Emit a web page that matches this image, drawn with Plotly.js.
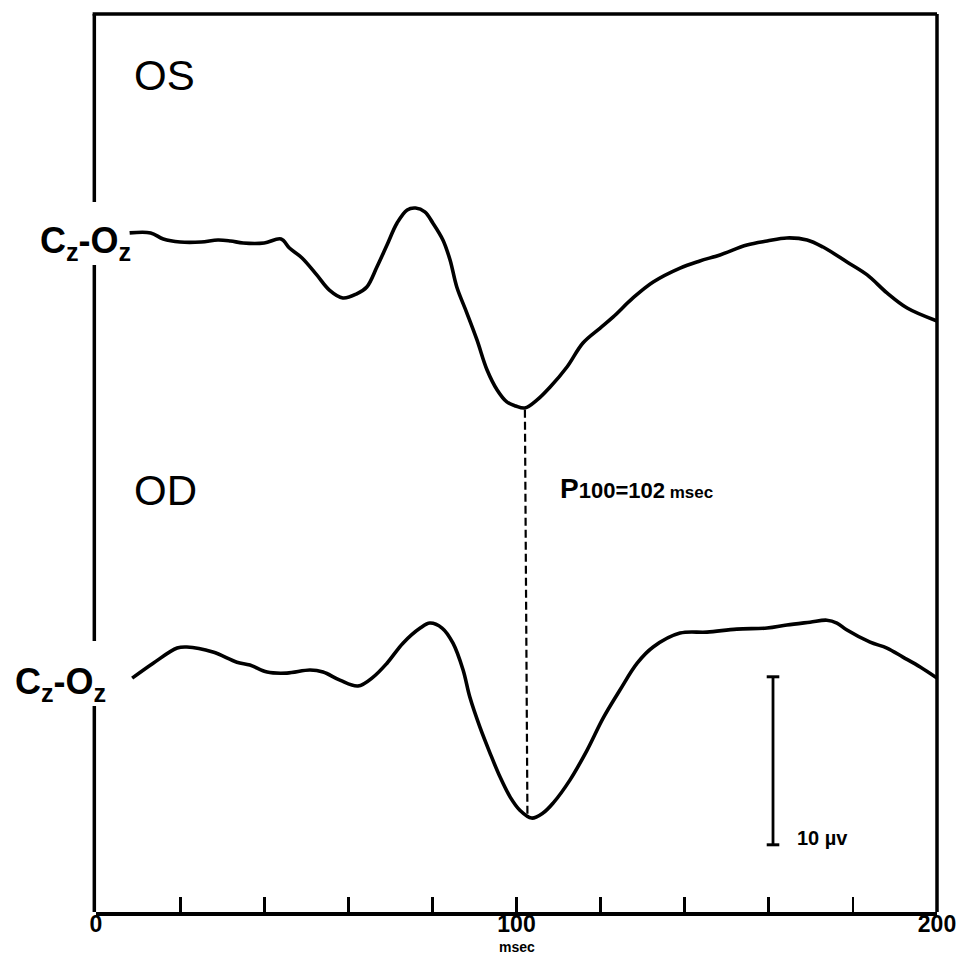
<!DOCTYPE html>
<html>
<head>
<meta charset="utf-8">
<script src="https://cdn.plot.ly/plotly-3.0.1.min.js"></script>
<style>html,body{margin:0;padding:0;background:#fff;}#chart{width:960px;height:954px;}</style>
</head>
<body>
<div id="chart"></div>
<script>
// ---- Data (time in msec, amplitude in µV) ----
const TIME_OS = [8, 13, 16, 20, 25, 29, 32, 35, 40, 44, 46, 49, 52.5, 55.5, 58.7, 62, 64.4, 66.8, 69.2, 71.6, 74, 76, 78.2, 80.1, 82.5, 84.2, 85.8, 88.2, 90.6, 93, 95.4, 97.7, 99.8, 102, 104.9, 108, 112, 115.8, 119.9, 123, 127.7, 132.5, 138.9, 143.6, 148.4, 154.8, 159.6, 164.3, 169.1, 172.9, 178.6, 183.4, 188.1, 192.9, 200];
const AMP_OS  = [0.42, 0.42, 0.06, -0.12, -0.12, 0, -0.06, -0.18, -0.18, 0.06, -0.48, -1.07, -2.08, -2.98, -3.45, -3.21, -2.8, -1.61, -0.3, 1.01, 1.79, 1.9, 1.67, 1.01, 0, -1.19, -2.8, -4.35, -5.95, -7.74, -8.93, -9.64, -9.88, -10.0, -9.52, -8.75, -7.56, -6.13, -5.24, -4.58, -3.45, -2.5, -1.67, -1.25, -0.89, -0.3, -0.06, 0.12, 0, -0.42, -1.31, -2.08, -3.15, -4.05, -4.82];

const TIME_OD = [8.6, 13.6, 19.3, 21.6, 27.8, 33.5, 36.6, 40.7, 45.4, 50.9, 54, 58, 62.3, 65.9, 69.2, 73, 77.1, 79.4, 82.3, 84.9, 87.3, 88.9, 91.3, 93.7, 96.1, 98.5, 100.8, 103.6, 106.3, 108.7, 112.7, 116.8, 120.6, 124.6, 128.7, 132.5, 138.9, 145.3, 152.4, 159.6, 164.3, 169.8, 173.8, 176.2, 178.6, 184.1, 188.1, 191.9, 196, 200];
const AMP_OD  = [-0.18, 0.71, 1.61, 1.67, 1.37, 0.77, 0.6, 0.18, 0.12, 0.3, 0.18, -0.3, -0.65, -0.12, 0.71, 1.9, 2.8, 3.1, 2.8, 1.9, 0.3, -1.31, -3.1, -4.64, -6.07, -7.26, -8.04, -8.51, -8.21, -7.62, -6.25, -4.46, -2.56, -0.89, 0.71, 1.67, 2.5, 2.56, 2.74, 2.8, 2.98, 3.15, 3.27, 3.1, 2.68, 1.96, 1.61, 1.07, 0.48, -0.18];

const X_TICKS = [0, 20, 40, 60, 80, 100, 120, 140, 160, 180, 200];
const X_TICK_LABELS = ['0', '', '', '', '', '100', '', '', '', '', '200'];
const P100_LATENCY = 102;   // msec
const SCALE_UV = 10;        // µV calibration bar

// ---- Layout constants (stacking of the two records) ----
const OS_OFFSET = 0;
const OD_OFFSET = -25.9;
const SCALE_X = 161;
const SCALE_TOP = -26.0;

const osY = AMP_OS.map(v => v + OS_OFFSET);
const odY = AMP_OD.map(v => v + OD_OFFSET);
const osMin = Math.min(...osY);
const odMin = Math.min(...odY);

const lineStyle = {color: '#000', width: 3.6, shape: 'spline', smoothing: 1.0};

const traces = [
  {x: TIME_OS, y: osY, mode: 'lines', line: lineStyle, hoverinfo: 'skip'},
  {x: TIME_OD, y: odY, mode: 'lines', line: lineStyle, hoverinfo: 'skip'},
  {x: [P100_LATENCY, P100_LATENCY + 0.6], y: [osMin - 0.1, odMin + 0.1], mode: 'lines',
   line: {color: '#000', width: 2.2, dash: '8px,4px'}, hoverinfo: 'skip'},
  {x: [SCALE_X, SCALE_X], y: [SCALE_TOP, SCALE_TOP - SCALE_UV], mode: 'lines+markers',
   line: {color: '#000', width: 2.8},
   marker: {symbol: 'line-ew', size: 9, color: '#000', line: {color: '#000', width: 3}},
   hoverinfo: 'skip'}
];

const F = 'Liberation Sans, Arial, sans-serif';
const frame = {color: '#000', width: 3.5};
const shapes = [
  {type: 'line', xref: 'paper', yref: 'paper', x0: -0.004, x1: 1, y0: 1, y1: 1, line: frame},
  {type: 'line', xref: 'paper', yref: 'paper', x0: 1, x1: 1, y0: 0, y1: 1, line: frame},
  {type: 'line', xref: 'paper', yref: 'paper', x0: -0.002, x1: -0.002, y0: 1, y1: 0.7906, line: frame},
  {type: 'line', xref: 'paper', yref: 'paper', x0: -0.002, x1: -0.002, y0: 0.7205, y1: 0.3018, line: frame},
  {type: 'line', xref: 'paper', yref: 'paper', x0: -0.002, x1: -0.002, y0: 0.2294, y1: 0, line: frame}
];

const czoz = 'C<sub>z</sub>-O<sub>z</sub>';
const annotations = [
  {text: 'OS', x: 8.6, y: 9.76, xanchor: 'left', yanchor: 'middle', showarrow: false,
   font: {family: F, size: 42, color: '#000'}},
  {text: 'OD', x: 8.6, y: -14.94, xanchor: 'left', yanchor: 'middle', showarrow: false,
   font: {family: F, size: 42, color: '#000'}},
  {text: czoz, x: 8.7, y: -0.2, xanchor: 'right', yanchor: 'middle', showarrow: false,
   font: {family: F, size: 36, color: '#000', weight: 'bold'}},
  {text: czoz, x: 2.9, y: -26.4, xanchor: 'right', yanchor: 'middle', showarrow: false,
   font: {family: F, size: 36, color: '#000', weight: 'bold'}},
  {text: '<span style="font-size:28px">P</span>100=102<span style="font-size:17px"> msec</span>',
   x: 109.9, y: -14.82, xanchor: 'left', yanchor: 'middle', showarrow: false,
   font: {family: F, size: 22, color: '#000', weight: 'bold'}},
  {text: '10 µv', x: 166.2, y: -35.6, xanchor: 'left', yanchor: 'middle', showarrow: false,
   font: {family: F, size: 20, color: '#000', weight: 'bold'}},
  {text: 'msec', x: 100, xref: 'x', y: -0.039, yref: 'paper', xanchor: 'center', yanchor: 'middle', showarrow: false,
   font: {family: F, size: 14, color: '#000', weight: 'bold'}}
];

const layout = {
  width: 960, height: 954,
  margin: {l: 96, r: 23, t: 14, b: 42, pad: 0},
  paper_bgcolor: '#fff', plot_bgcolor: '#fff',
  showlegend: false,
  xaxis: {
    range: [0, 200], tickvals: X_TICKS, ticktext: X_TICK_LABELS,
    ticks: 'inside', ticklen: 15, tickwidth: 2.8, tickcolor: '#000',
    showline: true, linecolor: '#000', linewidth: 3.5,
    showgrid: false, zeroline: false, fixedrange: true,
    ticklabelstandoff: -11,
    tickfont: {family: F, size: 23, color: '#000', weight: 'bold'}
  },
  yaxis: {
    range: [-40.0, 13.45], showline: false, showgrid: false, zeroline: false,
    showticklabels: false, ticks: '', fixedrange: true
  },
  shapes: shapes,
  annotations: annotations
};

Plotly.newPlot('chart', traces, layout, {displayModeBar: false, staticPlot: true});
</script>
</body>
</html>
